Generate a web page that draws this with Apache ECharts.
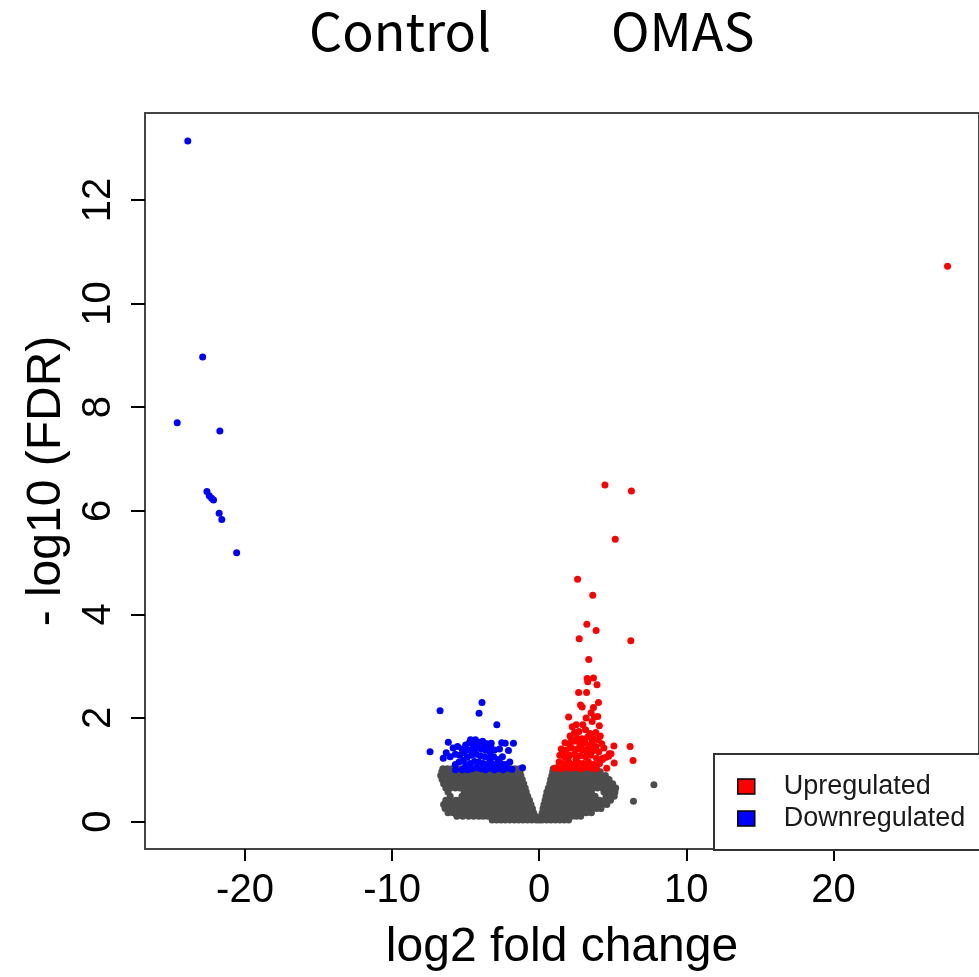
<!DOCTYPE html>
<html>
<head>
<meta charset="utf-8">
<script src="https://cdn.jsdelivr.net/npm/echarts@6/dist/echarts.min.js"></script>
<style>
html, body { margin: 0; padding: 0; background: #fff; }
#chart { width: 979px; height: 977px; }
</style>
</head>
<body>
<div id="chart"></div>
<script>
// tick labels
const xTicks = [-20, -10, 0, 10, 20]
const yTicks = [0, 2, 4, 6, 8, 10, 12]

// significant up (log2FC, -log10 FDR)
const upPoints = [
  [27.76, 10.72], [4.47, 6.50], [6.27, 6.38], [5.17, 5.45], [2.61, 4.68], [3.64, 4.37],
  [3.24, 3.81], [3.87, 3.69], [2.72, 3.53], [6.23, 3.49], [3.37, 3.13], [3.26, 2.76],
  [3.69, 2.77], [3.30, 2.70], [3.93, 2.64], [2.68, 2.49], [3.22, 2.49], [4.03, 2.30],
  [2.81, 2.25], [2.92, 2.21], [3.69, 2.20], [3.53, 2.10], [3.19, 2.00], [3.76, 2.02],
  [3.98, 2.03], [2.00, 2.02], [4.09, 1.85], [6.18, 1.45], [6.38, 1.18], [5.08, 1.46],
  [5.10, 1.13], [4.76, 1.31], [4.54, 1.24], [4.59, 1.03], [4.88, 1.31], [4.32, 1.22], [4.72, 1.26],
  [2.25, 1.83], [2.52, 1.87], [2.97, 1.87], [3.15, 1.77], [3.60, 1.93], [2.40, 1.72],
  [2.70, 1.74], [3.45, 1.70], [3.85, 1.72], [2.10, 1.65], [2.55, 1.62], [2.90, 1.60],
  [3.30, 1.63], [3.70, 1.60], [4.00, 1.58], [1.75, 1.52], [2.05, 1.50], [2.35, 1.55],
  [2.75, 1.50], [3.10, 1.52], [3.50, 1.48], [3.85, 1.45], [4.25, 1.50], [1.50, 1.40],
  [1.85, 1.38], [2.20, 1.42], [2.60, 1.40], [2.95, 1.38], [3.30, 1.40], [3.65, 1.36],
  [4.05, 1.35], [1.40, 1.28], [1.70, 1.25], [2.05, 1.28], [2.40, 1.30], [2.80, 1.27],
  [3.15, 1.25], [3.50, 1.28], [3.90, 1.22], [4.30, 1.20], [1.35, 1.15], [1.65, 1.12],
  [2.00, 1.15], [2.30, 1.10], [2.65, 1.14], [3.00, 1.12], [3.35, 1.15], [3.70, 1.10],
  [4.10, 1.12], [1.20, 1.04], [1.50, 1.02], [1.85, 1.05], [2.15, 1.03], [2.50, 1.04],
  [2.85, 1.02], [3.20, 1.05], [3.55, 1.03], [3.90, 1.02], [1.95, 1.22], [2.50, 1.20],
  [3.25, 1.33], [2.85, 1.45], [3.60, 1.55], [2.20, 1.58], [1.60, 1.33], [4.40, 1.42],
  [4.15, 1.65], [1.06, 1.03]
]

// significant down
const downPoints = [
  [-23.89, 13.14], [-22.88, 8.97], [-24.61, 7.70], [-21.71, 7.54], [-22.59, 6.37],
  [-22.43, 6.29], [-22.27, 6.24], [-22.14, 6.21], [-21.76, 5.95], [-21.58, 5.83], [-20.57, 5.19],
  [-3.89, 2.30], [-6.74, 2.14], [-4.09, 2.09], [-2.88, 1.87], [-7.42, 1.35], [-6.18, 1.53],
  [-6.52, 1.22], [-6.32, 1.33], [-5.69, 1.00], [-5.24, 1.00], [-2.31, 1.51], [-1.75, 1.51],
  [-3.26, 1.51], [-2.09, 1.37], [-1.13, 1.04], [-4.67, 1.58], [-4.34, 1.58],
  [-5.55, 1.45], [-5.25, 1.40], [-5.00, 1.48], [-4.75, 1.52], [-4.45, 1.50], [-4.15, 1.53],
  [-3.85, 1.55], [-3.55, 1.50], [-3.30, 1.45], [-5.70, 1.30], [-5.40, 1.28], [-5.10, 1.33],
  [-4.85, 1.38], [-4.55, 1.40], [-4.25, 1.42], [-3.95, 1.40], [-3.65, 1.38], [-3.35, 1.35],
  [-3.05, 1.38], [-2.70, 1.40], [-5.45, 1.15], [-5.15, 1.18], [-4.90, 1.24], [-4.60, 1.28],
  [-4.30, 1.30], [-4.00, 1.27], [-3.70, 1.25], [-3.40, 1.22], [-3.10, 1.25], [-2.80, 1.20],
  [-2.50, 1.25], [-5.00, 1.08], [-4.70, 1.12], [-4.40, 1.16], [-4.10, 1.15], [-3.80, 1.12],
  [-3.50, 1.10], [-3.20, 1.12], [-2.90, 1.08], [-2.60, 1.12], [-2.30, 1.10], [-2.00, 1.15],
  [-4.85, 1.00], [-4.55, 1.02], [-4.25, 1.04], [-3.95, 1.02], [-3.65, 1.00], [-3.35, 1.03],
  [-3.05, 1.00], [-2.75, 1.02], [-2.45, 1.00], [-2.15, 1.03], [-1.85, 1.01], [-4.20, 1.48],
  [-3.75, 1.45], [-2.55, 1.52], [-5.85, 1.42], [-6.05, 1.25], [-5.70, 1.10]
]

// not significant: rows of [-log10 FDR, log2FC values] read off the grey cloud
const greyRows = [
  [1.02, [-6.55, -6.25, -5.95, -5.65, -5.30, -4.95, -4.65, -4.35, -4.05, -3.75, -3.45, -3.15, -2.85, -2.55, -2.25, -1.95, -1.65, -1.35,
          0.95, 1.25, 1.55, 1.85, 2.15, 2.45, 2.75, 3.05, 3.35, 3.60]],
  [0.96, [-6.62, -6.30, -6.02, -5.71, -5.40, -5.12, -4.80, -4.52, -4.20, -3.91, -3.60, -3.32, -3.01, -2.70, -2.42, -2.10, -1.81, -1.52, -1.30,
          0.92, 1.20, 1.52, 1.80, 2.12, 2.41, 2.70, 3.02, 3.30, 3.58, 3.90, 4.15]],
  [0.89, [-6.70, -6.41, -6.10, -5.82, -5.50, -5.21, -4.92, -4.61, -4.30, -4.02, -3.71, -3.42, -3.10, -2.81, -2.50, -2.21, -1.90, -1.60, -1.25,
          0.86, 1.15, 1.45, 1.75, 2.05, 2.35, 2.66, 2.95, 3.25, 3.55, 3.86, 4.15, 4.50]],
  [0.81, [-6.60, -6.30, -6.02, -5.70, -5.42, -5.11, -4.82, -4.50, -4.21, -3.90, -3.62, -3.31, -3.02, -2.71, -2.40, -2.11, -1.80, -1.50, -1.15,
          0.78, 1.08, 1.38, 1.70, 2.00, 2.30, 2.62, 2.91, 3.22, 3.52, 3.82, 4.12, 4.45, 4.75]],
  [0.73, [-6.50, -6.20, -5.92, -5.60, -5.30, -5.01, -4.70, -4.41, -4.10, -3.81, -3.50, -3.21, -2.90, -2.60, -2.31, -2.00, -1.70, -1.40, -1.05,
          0.72, 1.02, 1.32, 1.62, 1.92, 2.22, 2.52, 2.82, 3.12, 3.42, 3.72, 4.02, 4.35, 4.70, 5.00]],
  [0.65, [-6.35, -6.05, -5.70, -5.40, -5.10, -4.80, -4.50, -4.20, -3.90, -3.60, -3.30, -3.00, -2.70, -2.40, -2.10, -1.80, -1.50, -1.22, -0.95,
          0.62, 0.92, 1.22, 1.52, 1.82, 2.12, 2.42, 2.72, 3.02, 3.32, 3.62, 3.95, 4.30, 4.62, 4.95, 5.20]],
  [0.57, [-6.20, -5.10, -4.80, -4.50, -4.20, -3.90, -3.60, -3.30, -3.00, -2.70, -2.40, -2.10, -1.80, -1.50, -1.18, -0.88,
          0.52, 0.82, 1.12, 1.42, 1.72, 2.02, 2.32, 2.62, 2.92, 3.22, 3.55, 4.40, 4.80, 5.15]],
  [0.49, [-6.05, -5.25, -4.95, -4.65, -4.35, -4.05, -3.75, -3.45, -3.15, -2.85, -2.55, -2.25, -1.95, -1.65, -1.35, -1.05, -0.78,
          0.46, 0.76, 1.06, 1.36, 1.66, 1.96, 2.26, 2.56, 2.86, 3.16, 3.45, 3.80, 4.55, 4.95, 5.10]],
  [0.41, [-6.35, -6.00, -5.65, -5.35, -5.05, -4.75, -4.45, -4.15, -3.85, -3.55, -3.25, -2.95, -2.65, -2.35, -2.05, -1.75, -1.45, -1.15, -0.90, -0.66,
          0.40, 0.70, 1.00, 1.30, 1.60, 1.90, 2.20, 2.50, 2.80, 3.10, 3.42, 3.75, 4.10, 4.45, 4.85]],
  [0.33, [-6.50, -6.20, -5.90, -5.60, -5.30, -5.00, -4.70, -4.40, -4.10, -3.80, -3.50, -3.20, -2.90, -2.60, -2.30, -2.00, -1.70, -1.40, -1.10, -0.82, -0.56,
          0.32, 0.62, 0.92, 1.22, 1.52, 1.82, 2.12, 2.42, 2.72, 3.02, 3.32, 3.62, 3.95, 4.30, 4.60]],
  [0.25, [-6.40, -6.10, -5.80, -5.50, -5.20, -4.90, -4.60, -4.30, -4.00, -3.70, -3.40, -3.10, -2.80, -2.50, -2.20, -1.90, -1.60, -1.30, -1.00, -0.72, -0.46,
          0.26, 0.56, 0.86, 1.16, 1.46, 1.76, 2.06, 2.36, 2.66, 2.96, 3.26, 3.56, 3.90, 4.20]],
  [0.17, [-6.20, -5.85, -5.50, -5.20, -4.90, -4.60, -4.30, -4.00, -3.70, -3.40, -3.10, -2.80, -2.50, -2.20, -1.90, -1.60, -1.30, -1.00, -0.70, -0.38,
          0.20, 0.50, 0.80, 1.10, 1.40, 1.70, 2.00, 2.30, 2.60, 2.90, 3.20, 3.55]],
  [0.10, [-5.60, -5.20, -4.80, -4.45, -4.10, -3.80, -3.50, -3.20, -2.90, -2.60, -2.30, -2.00, -1.70, -1.40, -1.10, -0.80, -0.50, -0.24,
          0.14, 0.42, 0.72, 1.02, 1.32, 1.62, 1.92, 2.22, 2.52, 2.82]],
  [0.03, [-3.20, -2.90, -2.60, -2.30, -2.00, -1.70, -1.40, -1.10, -0.80, -0.50, -0.20, 0.00, 0.20, 0.50, 0.80, 1.10, 1.40, 1.70, 2.00]]
]
const greyExtra = [[7.80, 0.71], [6.41, 0.39]]

const greyPoints = []
greyRows.forEach(function (row) {
  row[1].forEach(function (x) { greyPoints.push([x, row[0]]) })
})
greyExtra.forEach(function (p) { greyPoints.push(p) })

const sansFont = 'Liberation Sans'
const titleStyle = { fontFamily: 'Noto Sans CJK JP', fontSize: 52, fontWeight: 'normal', color: '#000' }

const myChart = echarts.init(document.getElementById('chart'))

const option = {
  animation: false,
  backgroundColor: '#fff',
  title: [
    { text: 'Control', left: 304, top: 0, textStyle: titleStyle },
    { text: 'OMAS', left: 606, top: 0, textStyle: titleStyle }
  ],
  legend: {
    orient: 'vertical',
    left: 714,
    top: 754,
    padding: [19, 60, 18, 23],
    itemGap: 5,
    itemWidth: 17,
    itemHeight: 15,
    icon: 'rect',
    backgroundColor: '#fff',
    borderColor: '#333',
    borderWidth: 2,
    borderRadius: 0,
    itemStyle: { borderColor: '#000', borderWidth: 1.5 },
    textStyle: { fontFamily: sansFont, fontSize: 27, color: '#1a1a1a', padding: [0, 0, 0, 24] },
    data: ['Upregulated', 'Downregulated']
  },
  grid: {
    left: 145,
    top: 113,
    width: 839,
    height: 736,
    show: true,
    borderColor: '#444',
    borderWidth: 2
  },
  xAxis: {
    type: 'value',
    min: -26.8,
    max: 29.9,
    splitLine: { show: false },
    axisLine: { show: false, onZero: false },
    axisTick: { show: true, length: 12, lineStyle: { color: '#000', width: 2 }, customValues: xTicks },
    axisLabel: { customValues: xTicks, fontFamily: sansFont, fontSize: 40, color: '#000', margin: 22 },
    name: 'log2 fold change',
    nameLocation: 'middle',
    nameGap: 75,
    nameTextStyle: { fontFamily: sansFont, fontSize: 48, color: '#000' }
  },
  yAxis: {
    type: 'value',
    min: -0.53,
    max: 13.68,
    splitLine: { show: false },
    axisLine: { show: false, onZero: false },
    axisTick: { show: true, length: 14, lineStyle: { color: '#000', width: 2 }, customValues: yTicks },
    axisLabel: { customValues: yTicks, rotate: 90, fontFamily: sansFont, fontSize: 40, color: '#000', margin: 26 },
    name: '- log10 (FDR)',
    nameLocation: 'middle',
    nameGap: 71,
    nameTextStyle: { fontFamily: sansFont, fontSize: 48, color: '#000' }
  },
  series: [
    {
      type: 'scatter',
      name: 'NS',
      data: greyPoints,
      symbolSize: 7,
      itemStyle: { color: '#4d4d4d', opacity: 1 },
      silent: true
    },
    {
      type: 'scatter',
      name: 'Upregulated',
      data: upPoints,
      symbolSize: 7,
      itemStyle: { color: '#ff0000', opacity: 1 }
    },
    {
      type: 'scatter',
      name: 'Downregulated',
      data: downPoints,
      symbolSize: 7,
      itemStyle: { color: '#0000ff', opacity: 1 }
    }
  ]
}

myChart.setOption(option)
</script>
</body>
</html>
